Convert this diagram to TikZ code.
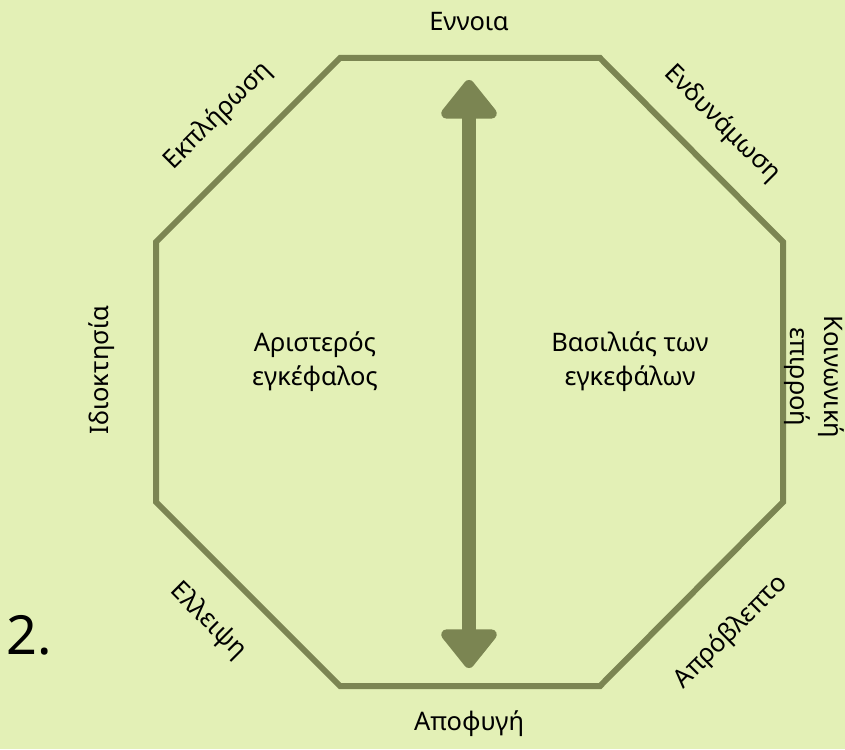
\documentclass[tikz,border=0pt]{standalone}
\usepackage{fontspec}
\setmainfont{Noto Sans}
\usetikzlibrary{arrows.meta}
\definecolor{bg}{HTML}{E3F0B6}
\definecolor{ol}{HTML}{7B8552}
\tikzset{
  lbl/.style={font=\fontsize{25.5}{34}\selectfont, text=black, inner sep=0pt, align=center},
  edge/.style={draw=ol, line width=6pt, line join=miter},
}
\begin{document}
\begin{tikzpicture}[x=1pt,y=-1pt]
\fill[bg] (0,0) rectangle (845,749);
\useasboundingbox (0,0) rectangle (845,749);
\coordinate (v1) at (340,58);
\coordinate (v2) at (600,58);
\coordinate (v3) at (783,242);
\coordinate (v4) at (783,502);
\coordinate (v5) at (600,686);
\coordinate (v6) at (340,686);
\coordinate (v7) at (156,502);
\coordinate (v8) at (156,242);
\draw[edge] (v1) -- (v2) -- (v3) -- (v4) -- (v5) -- (v6) -- (v7) -- (v8) -- cycle;
\coordinate (atop) at (469,80);
\coordinate (abot) at (469,668);
\draw[ol, line width=14pt, line cap=round, line join=round,
  {Triangle[length=42pt,width=64pt,round]}-{Triangle[length=42pt,width=64pt,round]}] (atop) -- (abot);
\node[lbl] (t1) at (469,22) {Εννοια};
\node[lbl] (t2) at (469,724) {Αποφυγή};
\node[lbl, rotate=90] (t3) at (102,370) {Ιδιοκτησία};
\node[lbl, rotate=-90] (t4) at (814,377) {Κοινωνική\\επιρροή};
\node[lbl, rotate=45] (t5) at (218,116) {Εκπλήρωση};
\node[lbl, rotate=-45] (t6) at (722,124) {Ενδυνάμωση};
\node[lbl, rotate=-45] (t7) at (208,621) {Ελλειψη};
\node[lbl, rotate=45] (t8) at (731,632) {Απρόβλεπτο};
\node[lbl] (c1) at (315,362) {Αριστερός\\εγκέφαλος};
\node[lbl] (c2) at (630,362) {Βασιλιάς των\\εγκεφάλων};
\node[font=\fontsize{54}{60}\selectfont, inner sep=0pt] (num) at (29,635) {2.};
\end{tikzpicture}
\end{document}
